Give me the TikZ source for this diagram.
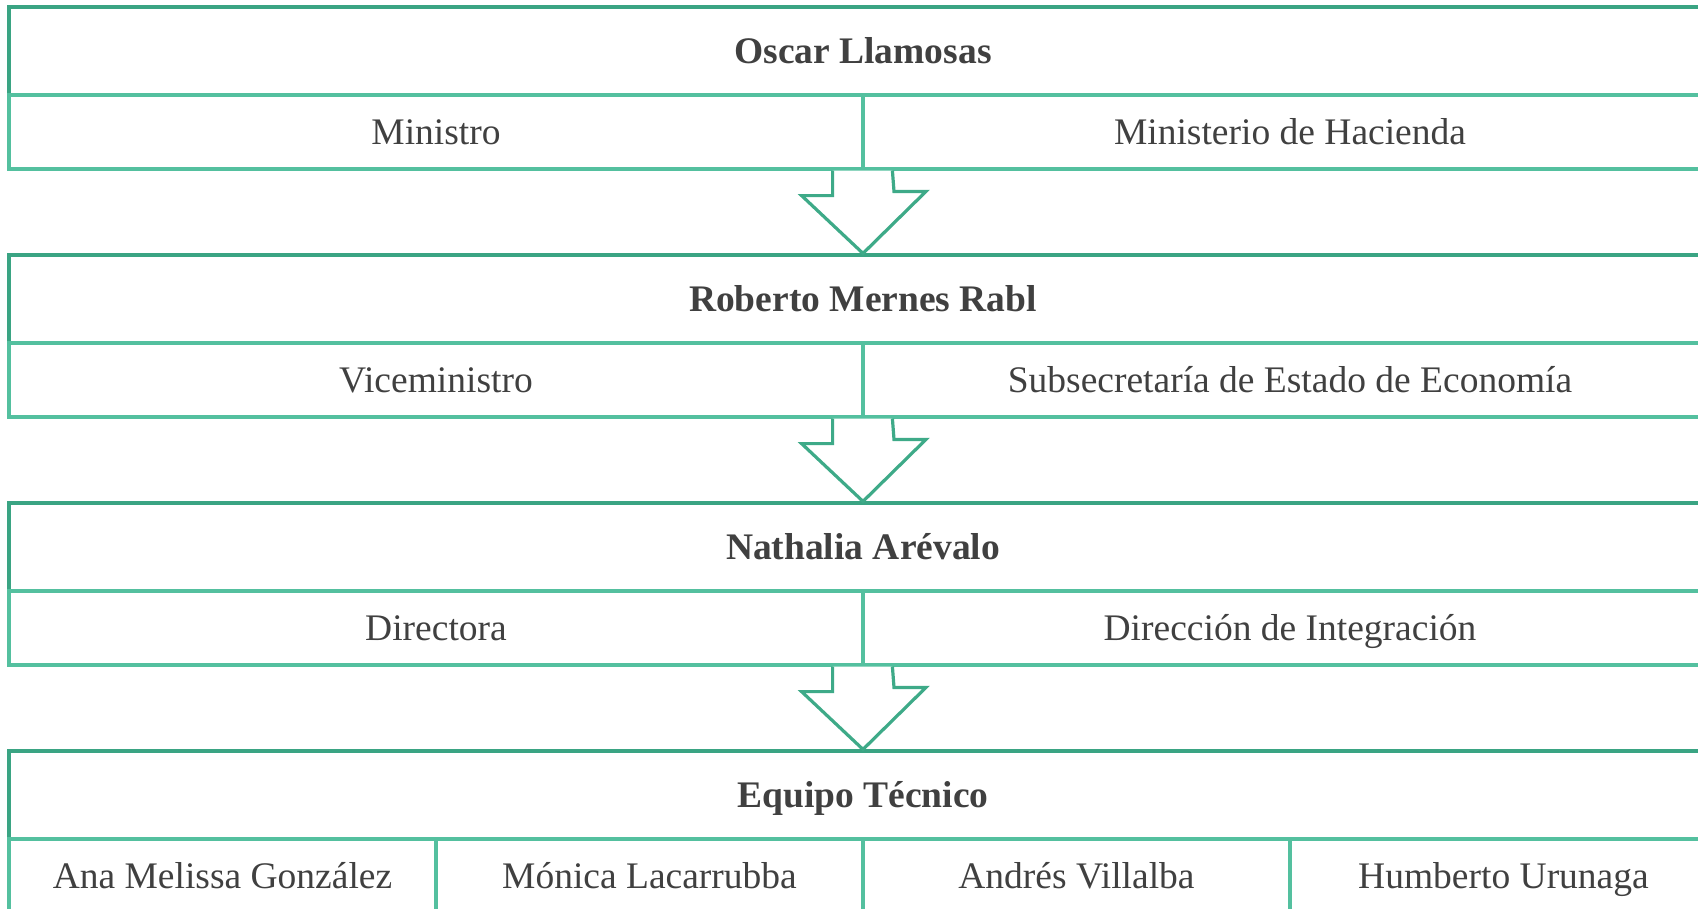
\documentclass[tikz,border=0pt]{standalone}
\usepackage{fontspec}
\setmainfont{Liberation Serif}
\usetikzlibrary{calc}
\definecolor{hdrgreen}{RGB}{58,164,131}
\definecolor{cellgreen}{RGB}{84,192,159}
\definecolor{arrgreen}{RGB}{62,170,136}
\definecolor{txtgray}{RGB}{64,64,64}
\tikzset{
  hdrbox/.style={draw=hdrgreen, line width=3.2pt, minimum width=1708pt, minimum height=88pt, inner sep=0pt, text height=25pt, text depth=0pt, text=txtgray, font=\fontsize{37.5}{42}\selectfont\bfseries},
  cellbox/.style={draw=cellgreen, line width=3.2pt, minimum width=854pt, minimum height=74pt, inner sep=0pt, text height=25pt, text depth=0pt, text=txtgray, font=\fontsize{37.5}{42}\selectfont},
  qcellbox/.style={cellbox, minimum width=427pt},
  downarrow/.style={draw=arrgreen, line width=3.2pt, line join=miter, fill=white}
}
\begin{document}
\begin{tikzpicture}[x=1pt,y=-1pt]
\useasboundingbox (0,0) rectangle (1698,908);
\clip (0,0) rectangle (1698,908);
% box 1
\node[hdrbox] (h1) at (863,51) {Oscar Llamosas};
\node[cellbox] (c1l) at (436,132) {Ministro};
\node[cellbox] (c1r) at (1290,132) {Ministerio de Hacienda};
% box 2
\node[hdrbox] (h2) at (863,299) {Roberto Mernes Rabl};
\node[cellbox] (c2l) at (436,380) {Viceministro};
\node[cellbox] (c2r) at (1290,380) {Subsecretaría de Estado de Economía};
% box 3
\node[hdrbox] (h3) at (863,547) {Nathalia Arévalo};
\node[cellbox] (c3l) at (436,628) {Directora};
\node[cellbox] (c3r) at (1290,628) {Dirección de Integración};
% box 4
\node[hdrbox] (h4) at (863,795) {Equipo Técnico};
\node[qcellbox] (c4a) at (222.5,876) {Ana Melissa González};
\node[qcellbox] (c4b) at (649.5,876) {Mónica Lacarrubba};
\node[qcellbox] (c4c) at (1076.5,876) {Andrés Villalba};
\node[qcellbox] (c4d) at (1503.5,876) {Humberto Urunaga};
% arrows
\foreach \a/\b/\c in {c1l/c1r/h2, c2l/c2r/h3, c3l/c3r/h4}{
  \draw[downarrow] ($(\a.south east)+(-32,0)$) -- ++(0,25) -- ++(-31,0) -- (\c.north)
    -- ++(63,-62) -- ++(-32,0) -- ($(\b.south west)+(31,0)$);
}
\end{tikzpicture}
\end{document}
